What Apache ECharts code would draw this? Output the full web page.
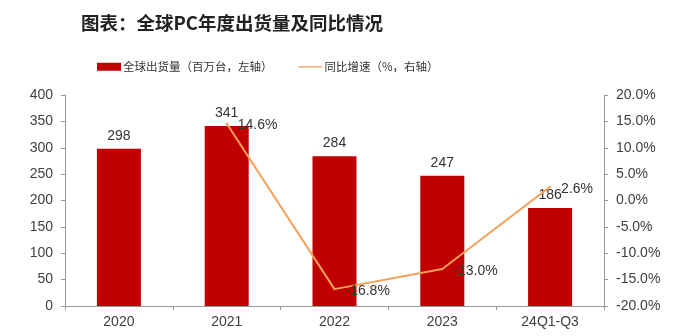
<!DOCTYPE html>
<html>
<head>
<meta charset="utf-8">
<script src="https://cdn.jsdelivr.net/npm/echarts@6/dist/echarts.min.js"></script>
<style>html,body{margin:0;padding:0;background:#fff;}#c{width:700px;height:336px;}</style>
</head>
<body>
<div id="c"></div>
<script>
const categories = ['2020', '2021', '2022', '2023', '24Q1-Q3'];
const shipments = [298, 341, 284, 247, 186];
const yoyGrowth = [null, 14.6, -16.8, -13.0, 2.6];
const leftTicks = { min: 0, max: 400, interval: 50 };
const rightTicks = { min: -20, max: 20, interval: 5 };

const chart = echarts.init(document.getElementById('c'), null, { renderer: 'canvas' });
const axisFont = { fontFamily: 'Liberation Sans, Arial, sans-serif', fontSize: 14, color: '#404040' };
chart.setOption({
  animation: false,
  backgroundColor: '#fff',
  title: {
    text: '图表：全球PC年度出货量及同比情况',
    left: 76, top: 9,
    textStyle: { fontFamily: 'Noto Sans CJK SC', fontWeight: 'bold', fontSize: 18.5, color: '#222' }
  },
  legend: {
    top: 56, left: 92,
    itemGap: 26,
    itemWidth: 24, itemHeight: 8,
    textStyle: { fontFamily: 'Noto Sans CJK SC', fontSize: 11.5, color: '#333', padding: [0, 0, 0, -3] },
    data: [
      { name: '全球出货量（百万台，左轴）', icon: 'rect' },
      { name: '同比增速（%，右轴）', icon: 'path://M0,0h0.01v0.01h-0.01z M0,3.3h24v1.6h-24z M0,7.99h0.01v0.01h-0.01z', itemStyle: { color: '#F8B78A', opacity: 1 } }
    ]
  },
  grid: { left: 65, right: 96, top: 95, bottom: 30 },
  xAxis: {
    type: 'category',
    data: categories,
    axisLine: { lineStyle: { color: '#999' } },
    axisTick: { show: true, alignWithLabel: false, length: 4, lineStyle: { color: '#999' } },
    axisLabel: Object.assign({ margin: 9 }, axisFont)
  },
  yAxis: [
    {
      type: 'value', min: leftTicks.min, max: leftTicks.max, interval: leftTicks.interval,
      axisLine: { show: true, lineStyle: { color: '#999' } },
      axisTick: { show: true, length: 4, lineStyle: { color: '#999' } },
      splitLine: { show: false },
      axisLabel: Object.assign({ margin: 12 }, axisFont)
    },
    {
      type: 'value', min: rightTicks.min, max: rightTicks.max, interval: rightTicks.interval,
      axisLine: { show: true, lineStyle: { color: '#999' } },
      axisTick: { show: true, length: 4, lineStyle: { color: '#999' } },
      splitLine: { show: false },
      axisLabel: Object.assign({ margin: 12, formatter: v => v.toFixed(1) + '%' }, axisFont)
    }
  ],
  series: [
    {
      name: '全球出货量（百万台，左轴）',
      type: 'bar',
      data: shipments,
      barWidth: 44,
      itemStyle: { color: '#C00000' },
      label: { show: true, position: 'top', distance: 6, fontFamily: 'Liberation Sans, Arial, sans-serif', fontSize: 14, color: '#333' }
    },
    {
      name: '同比增速（%，右轴）',
      type: 'line',
      yAxisIndex: 1,
      data: yoyGrowth,
      symbol: 'circle',
      symbolSize: 2,
      showSymbol: true,
      connectNulls: false,
      lineStyle: { color: '#F5A05A', width: 2 },
      itemStyle: { color: '#F5A05A' },
      label: {
        show: true, position: 'right', distance: 10, offset: [0, 2],
        formatter: p => p.value == null ? '' : p.value.toFixed(1) + '%',
        fontFamily: 'Liberation Sans, Arial, sans-serif', fontSize: 14, color: '#333'
      }
    }
  ]
});
</script>
</body>
</html>
